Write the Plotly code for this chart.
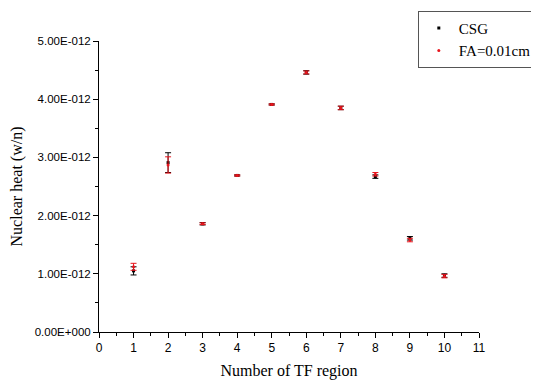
import plotly.graph_objects as go

regions = [1, 2, 3, 4, 5, 6, 7, 8, 9, 10]
csg = [1.05e-12, 2.91e-12, 1.86e-12, 2.69e-12, 3.91e-12, 4.46e-12, 3.85e-12, 2.67e-12, 1.61e-12, 0.97e-12]
csg_err = [0.07e-12, 0.17e-12, 0.02e-12, 0.01e-12, 0.01e-12, 0.03e-12, 0.03e-12, 0.03e-12, 0.03e-12, 0.03e-12]
fa = [1.12e-12, 2.87e-12, 1.86e-12, 2.69e-12, 3.91e-12, 4.46e-12, 3.85e-12, 2.71e-12, 1.58e-12, 0.96e-12]
fa_err = [0.06e-12, 0.14e-12, 0.015e-12, 0.01e-12, 0.01e-12, 0.025e-12, 0.03e-12, 0.03e-12, 0.03e-12, 0.03e-12]

y_tickvals = [0, 1e-12, 2e-12, 3e-12, 4e-12, 5e-12]
y_ticktext = ["0.00E+000", "1.00E-012", "2.00E-012", "3.00E-012", "4.00E-012", "5.00E-012"]
x_tickvals = list(range(0, 12))

fig = go.Figure()
fig.add_trace(go.Scatter(
    x=regions, y=csg, mode="markers", name="CSG",
    marker=dict(color="black", size=3, symbol="square"),
    error_y=dict(type="data", array=csg_err, color="black", thickness=1, width=3),
))
fig.add_trace(go.Scatter(
    x=regions, y=fa, mode="markers", name="FA=0.01cm",
    marker=dict(color="#e8141c", size=3, symbol="circle"),
    error_y=dict(type="data", array=fa_err, color="#e8141c", thickness=1, width=3),
))

fig.update_layout(
    width=539, height=380,
    margin=dict(l=91, r=68, t=33, b=56, autoexpand=False),
    paper_bgcolor="white", plot_bgcolor="white",
    showlegend=True,
    legend=dict(
        x=0.839, y=1.104, xanchor="left", yanchor="top",
        bordercolor="#555555", borderwidth=1, bgcolor="white",
        font=dict(family="Liberation Serif, Times New Roman, serif", size=15, color="black"),
        tracegroupgap=0, itemsizing="trace", itemwidth=30,
    ),
    xaxis=dict(
        range=[0, 11], tickvals=x_tickvals, showgrid=False, zeroline=False,
        showline=True, linecolor="black", linewidth=1,
        ticks="outside", ticklen=5, tickcolor="black",
        minor=dict(ticks="outside", ticklen=3, dtick=0.5, tickcolor="black"),
        tickfont=dict(family="Liberation Sans, Arial, sans-serif", size=12, color="black"),
        title=dict(text="Number of TF region", standoff=10,
                   font=dict(family="Liberation Serif, Times New Roman, serif", size=16, color="black")),
    ),
    yaxis=dict(
        range=[0, 5e-12], tickvals=y_tickvals, ticktext=y_ticktext, showgrid=False, zeroline=False,
        showline=True, linecolor="black", linewidth=1,
        ticks="outside", ticklen=5, tickcolor="black",
        minor=dict(ticks="outside", ticklen=3, dtick=0.5e-12, tickcolor="black"),
        tickfont=dict(family="Liberation Sans, Arial, sans-serif", size=11.5, color="black"),
        title=dict(text="Nuclear heat (w/n)", standoff=12,
                   font=dict(family="Liberation Serif, Times New Roman, serif", size=16, color="black")),
    ),
)

fig.write_html("out.html")
